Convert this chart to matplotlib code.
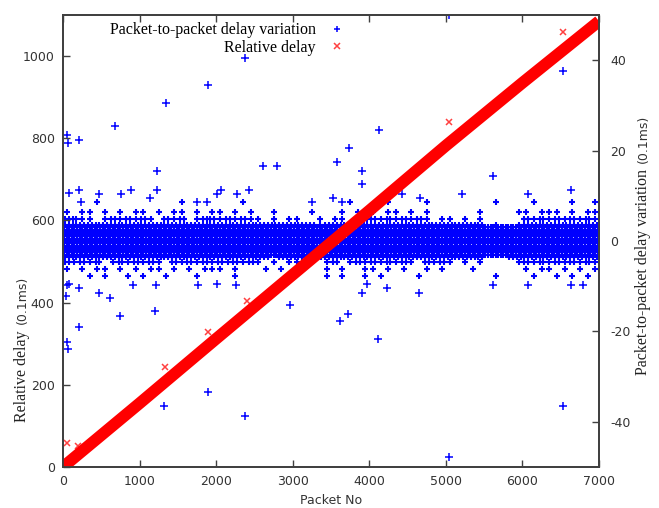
import matplotlib.pyplot as plt
import numpy as np

plt.rcParams['axes.unicode_minus'] = False

# Relative delay (left axis, 0.1 ms), read along the red band
delay_packets = [0, 1000, 2000, 3000, 4000, 5000, 6000, 7000]
delay_values = [0, 155, 312, 468, 624, 782, 935, 1085]

# red crosses lying off the band
delay_out_packets = [50, 200, 1332, 1893, 2400, 5041, 6530]
delay_out_values = [58, 52, 244, 329, 405, 839, 1059]

# Packet-to-packet delay variation (right axis, 0.1 ms)
# dense part: one row per level, one digit per 100-packet bin = how many marks there
ipdv_levels = [8.6, 6.4, 4.9, 3.6, 3.0, 2.5, 2.0, 1.5, 1.0, 0.5, 0.0,
               -0.5, -1.0, -1.5, -2.0, -2.5, -3.0, -3.6, -4.6, -6.2, -7.7]
ipdv_rows = [
    "....1..... .....1.... ...1...... .......1.. ..1....1.. ......1... .1....1..1",
    "1.11.1.1.1 1.1.11.1.1 1.1.1..1.. ..1...1.1. 1.11.1.1.. ....1....1 1.111.1.11",
    "2211.12121 21.212.122 121211.1.1 1..1.11.12 21212121.1 1.1.1..... 2121212121",
    "2222222222 2222222222 2222222222 2221222222 2222222222 22222.1..1 2222222222",
    "3333333333 3333333333 3333333333 3333333333 3333333333 3333333333 3333333333",
    "3333333333 3333333333 3333333333 3333333333 3333333333 3333333333 3333333333",
    "3333333333 3333333333 3333333333 3333333333 3333333333 3333333333 3333333333",
    "3333333333 3333333333 3333333333 3333333333 3333333333 3333333333 3333333333",
    "3333333333 3333333333 3333333333 3333333333 3333333333 3333333333 3333333333",
    "3333333333 3333333333 3333333333 3333333333 3333333333 3333333333 3333333333",
    "3333333333 3333333333 3333333333 3333333333 3333333333 3333333333 3333333333",
    "3333333333 3333333333 3333333333 3333333333 3333333333 3333333333 3333333333",
    "3333333333 3333333333 3333333333 3333333333 3333333333 3333333333 3333333333",
    "3333333333 3333333333 3333333333 3333333333 3333333333 3333333333 3333333333",
    "3333333333 3333333333 3333333333 3333333333 3333333333 3333333333 3333333333",
    "3333333333 3333333333 3333333333 3333333333 3333333333 3333333333 3333333333",
    "3333333333 3333333333 3333333333 3333333333 3333333333 3333333333 3333333333",
    "2222222222 2222222222 2222222.22 2222222222 2222222222 22222...22 2222222222",
    "21212.1212 121.212121 212121.1.1 1.1.12.121 212121.212 1.1.1....1 2121212121",
    "1.1.11.1.1 .11.1.1.11 1.1...1.1. .1..1.1..1 1.1.1..1.1 ...1...... 1.11.1.1.1",
    "...1.1..1. 1..1...1.. ..1....... ....1.1..1 .1....1... ......1... .1..1.1.1.",
]

# sparse outliers
ipdv_out_packets = [52, 65, 209, 679, 1345, 1227, 1893, 2377, 2612, 2795, 3578, 3735,
                    4127, 3905, 3905, 5040, 6530, 5617, 6072, 6632,
                    78, 209, 470, 757, 888, 1227, 1136, 2011, 2063, 2272, 2429, 235,
                    1750, 1880, 5212, 3253, 3526, 3642, 4427, 4662,
                    52, 40, 52, 65, 209, 744, 1201, 1893, 1319, 2377, 2963, 3620,
                    3724, 4114, 5040, 6530,
                    78, 209, 470, 614, 914, 1214, 1763, 2011, 2259, 3905, 4649, 4232,
                    3970, 5617, 6072, 6632, 6788]
ipdv_out_values = [23.4, 21.7, 22.3, 25.4, 30.5, 15.5, 34.5, 40.4, 16.6, 16.6, 17.5, 20.6,
                   24.5, 15.5, 12.6, 50.0, 37.6, 14.4, 10.4, 11.3,
                   10.6, 11.3, 10.4, 10.4, 11.3, 11.3, 9.5, 10.4, 11.3, 10.4, 11.3, 8.6,
                   8.6, 8.6, 10.4, 8.6, 9.5, 8.6, 10.4, 9.5,
                   -9.7, -12.2, -22.3, -23.9, -19.0, -16.6, -15.5, -33.4, -36.5, -38.7, -14.1, -17.7,
                   -16.1, -21.7, -47.7, -36.5,
                   -9.5, -10.4, -11.5, -12.6, -9.7, -9.7, -9.7, -9.5, -9.7, -11.5, -11.5, -10.4,
                   -9.5, -9.7, -9.7, -9.7, -9.7]

n_packets = 7000
serif = 'Liberation Serif'
sans = 'DejaVu Sans'
blue = '#0000ff'
red = '#ff0000'
axis_col = '#404040'

band_x, band_y = [], []
for level, row in zip(ipdv_levels, ipdv_rows):
    cells = row.replace(" ", "")
    width = n_packets / len(cells)
    for i, c in enumerate(cells):
        if c == '.':
            continue
        k = int(c)
        for j in range(k):
            band_x.append((i + (j + 0.5) / k) * width)
            band_y.append(level)

fig = plt.figure(figsize=(6.59, 5.08), dpi=100)
ax = fig.add_axes([63 / 659, 1 - 467 / 508, 536 / 659, 452 / 508])
ax2 = ax.twinx()

# packet-to-packet variation on the right axis
ax2.plot(band_x, band_y, ls='none', marker='+', ms=5, mew=1.5, color=blue)
ax2.plot(ipdv_out_packets, ipdv_out_values, ls='none', marker='+', ms=5.5, mew=1.1, color=blue)

# relative delay on the left axis, drawn over the blue band
ax.plot(delay_packets, delay_values, color=red, lw=8.5, solid_capstyle='butt')
ax.plot(delay_out_packets, delay_out_values, ls='none', marker='x', ms=5, mew=1.1,
        color=red, alpha=0.75)
ax.set_zorder(ax2.get_zorder() + 1)
ax.patch.set_visible(False)

ax.set_xlim(0, 7000)
ax.set_ylim(0, 1100)
ax2.set_ylim(-50, 50)
ax.set_xticks(range(0, 7001, 1000))
ax.set_yticks(range(0, 1001, 200))
ax2.set_yticks([-40, -20, 0, 20, 40])

for a in (ax, ax2):
    for s in a.spines.values():
        s.set_color(axis_col)
        s.set_linewidth(1.3)
ax.tick_params(direction='in', length=5, width=1, color=axis_col, labelsize=9,
               labelcolor='#333333', top=True, right=False, pad=6)
ax2.tick_params(direction='in', length=5, width=1, color=axis_col, labelsize=9,
                labelcolor='#333333', pad=8)

fig.text(331 / 659, 1 - 500 / 508, 'Packet No', family=sans, size=9, color='#333333',
         ha='center', va='center')

# legend in gnuplot style: text on the left, sample on the right
h_blue, = ax.plot([], [], ls='none', marker='+', ms=5, mew=1.1, color=blue)
h_red, = ax.plot([], [], ls='none', marker='x', ms=5, mew=1.1, color=red, alpha=0.75)
ax.legend([h_blue, h_red], ['Packet-to-packet delay variation', 'Relative delay'],
          loc='upper right', bbox_to_anchor=(359 / 659, 1 - 8 / 508),
          bbox_transform=fig.transFigure, frameon=False, markerfirst=False,
          handlelength=1.0, handletextpad=0.8, labelspacing=0.1,
          prop={'family': serif, 'size': 11.5})


def rotated_label(x_px, y_px, main, unit):
    """serif label with a smaller sans '(0.1ms)' after it, reading bottom to top"""
    x = x_px / 659
    t1 = fig.text(x, 1 - y_px / 508, main, rotation=90, rotation_mode='anchor',
                  ha='left', va='baseline', family=serif, size=11.5, color='#222222')
    fig.canvas.draw()
    bb = t1.get_window_extent()
    y2 = fig.transFigure.inverted().transform((0, bb.y1 + 6))[1]
    fig.text(x, y2, unit, rotation=90, rotation_mode='anchor', ha='left', va='baseline',
             family=sans, size=9, color='#333333')


rotated_label(26, 422, 'Relative delay', '(0.1ms)')
rotated_label(647, 375, 'Packet-to-packet delay variation', '(0.1ms)')

fig.savefig('out.png', dpi=100, facecolor='white')
